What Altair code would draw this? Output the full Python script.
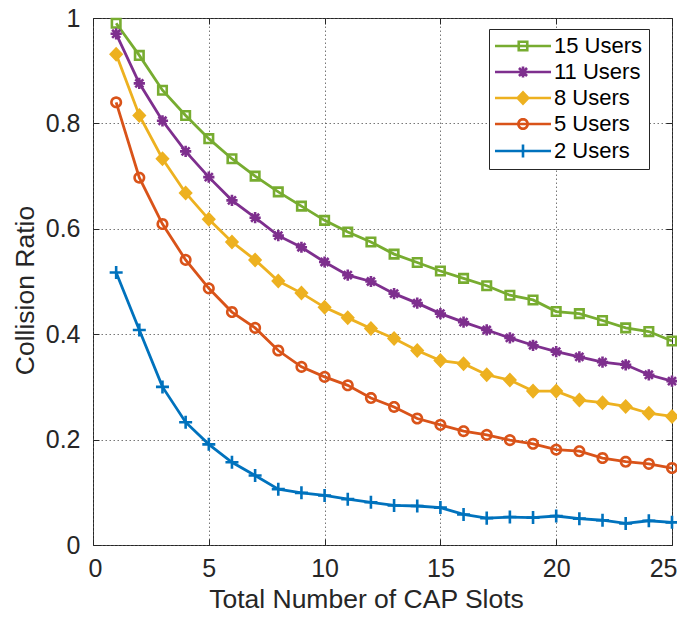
import math
import altair as alt
import pandas as pd

# ---------------- data ----------------
slots = list(range(1, 26))
series_names = ["15 Users", "11 Users", "8 Users", "5 Users", "2 Users"]
users15 = [0.990, 0.929, 0.863, 0.815, 0.771, 0.733, 0.700, 0.670, 0.643, 0.616, 0.594, 0.575,
           0.552, 0.536, 0.520, 0.506, 0.492, 0.474, 0.465, 0.443, 0.439, 0.426, 0.412, 0.405, 0.387]
users11 = [0.970, 0.876, 0.805, 0.747, 0.698, 0.654, 0.621, 0.587, 0.565, 0.537, 0.512, 0.500,
           0.477, 0.459, 0.439, 0.423, 0.408, 0.393, 0.379, 0.367, 0.357, 0.347, 0.342, 0.323, 0.311]
users8 = [0.931, 0.815, 0.733, 0.668, 0.618, 0.575, 0.541, 0.501, 0.478, 0.451, 0.431, 0.411,
          0.392, 0.369, 0.350, 0.344, 0.323, 0.313, 0.292, 0.292, 0.275, 0.270, 0.263, 0.250, 0.244]
users5 = [0.840, 0.697, 0.609, 0.541, 0.487, 0.442, 0.412, 0.369, 0.338, 0.319, 0.303, 0.279,
          0.262, 0.240, 0.228, 0.216, 0.209, 0.199, 0.192, 0.181, 0.178, 0.165, 0.158, 0.154, 0.146]
users2 = [0.517, 0.408, 0.300, 0.233, 0.191, 0.157, 0.132, 0.106, 0.099, 0.094, 0.087, 0.081,
          0.075, 0.074, 0.071, 0.058, 0.051, 0.053, 0.052, 0.055, 0.050, 0.047, 0.041, 0.046, 0.043]
x_ticks = [0, 5, 10, 15, 20, 25]
y_ticks = [0, 0.2, 0.4, 0.6, 0.8, 1]

colors = ["#77AC30", "#7E2F8E", "#EDB120", "#D95319", "#0072BD"]
fills = ["transparent", "transparent", "#EDB120", "transparent", "transparent"]

rows = []
for name, vals in zip(series_names, [users15, users11, users8, users5, users2]):
    for s, v in zip(slots, vals):
        rows.append({"slots": s, "ratio": v, "series": name})
df = pd.DataFrame(rows)

# ---------------- marker shapes (unit box; size 140 -> 1 unit ~ 5.9 px) ----------------
MSIZE = 140
MSW = 2.6


def circle_path(r, n=28):
    pts = [(r * math.cos(2 * math.pi * i / n), r * math.sin(2 * math.pi * i / n)) for i in range(n)]
    return "M" + "L".join(f"{x:.3f},{y:.3f}" for x, y in pts) + "Z"


square = "M-0.72,-0.72L0.72,-0.72L0.72,0.72L-0.72,0.72Z"
asterisk = "M-0.95,0L0.95,0M0,-0.95L0,0.95M-0.68,-0.68L0.68,0.68M-0.68,0.68L0.68,-0.68"
diamond = "M0,-0.95L0.9,0L0,0.95L-0.9,0Z"
circle = circle_path(0.8)
plus = "M-1.1,0L1.1,0M0,-1.1L0,1.1"
marker_paths = [square, asterisk, diamond, circle, plus]
half_line = 28 / (math.sqrt(MSIZE) / 2)
legend_line = f"M{-half_line:.3f},0L{half_line:.3f},0"
legend_paths = [legend_line + p for p in marker_paths]

FONT = "Liberation Sans"
W, H = 579, 527

xscale = alt.Scale(domain=[0, 25], nice=False, zero=False)
yscale = alt.Scale(domain=[0, 1], nice=False, zero=False)

base = alt.Chart(df)

lines = base.mark_line(strokeWidth=2.8).encode(
    x=alt.X("slots:Q", scale=xscale, title="Total Number of CAP Slots",
            axis=alt.Axis(orient="bottom", values=x_ticks, grid=True, domain=False,
                          ticks=True, tickSize=6, offset=-6, labelPadding=11,
                          labelFlush=True, labelFlushOffset=5,
                          titleX=273, titleY=68, titleBaseline="alphabetic",
                          titleAlign="center", titleAnchor="start")),
    y=alt.Y("ratio:Q", scale=yscale, title="Collision Ratio",
            axis=alt.Axis(orient="left", values=y_ticks, format=".1~f", grid=True, domain=False,
                          ticks=True, tickSize=6, offset=-6, labelPadding=13, labelFlush=False,
                          titleX=-66, titleY=272, titleAngle=-90, titleBaseline="alphabetic",
                          titleAlign="center", titleAnchor="start")),
    color=alt.Color("series:N", scale=alt.Scale(domain=series_names, range=colors), legend=None),
    detail="series:N",
)

points = base.mark_point(filled=False, size=MSIZE, strokeWidth=MSW, opacity=1).encode(
    x=alt.X("slots:Q", scale=xscale, axis=None),
    y=alt.Y("ratio:Q", scale=yscale, axis=None),
    color=alt.Color("series:N", scale=alt.Scale(domain=series_names, range=colors), legend=None),
    fill=alt.Fill("series:N", scale=alt.Scale(domain=series_names, range=fills), legend=None),
    shape=alt.Shape("series:N", scale=alt.Scale(domain=series_names, range=marker_paths), legend=None),
)

lab_expr = "datum.label + '\u00a0\u00a0'"
leg_kw = dict(title=None, labelExpr=lab_expr, orient="none", legendX=396, legendY=11)
legend_layer = base.transform_filter("false").mark_point(
    filled=False, size=MSIZE, strokeWidth=MSW, opacity=1
).encode(
    x=alt.X("slots:Q", scale=xscale,
            axis=alt.Axis(orient="top", values=x_ticks, labels=False, grid=False, domain=False,
                          ticks=True, tickSize=6, offset=-6, title=None)),
    y=alt.Y("ratio:Q", scale=yscale,
            axis=alt.Axis(orient="right", values=y_ticks, labels=False, grid=False, domain=False,
                          ticks=True, tickSize=6, offset=-6, title=None)),
    color=alt.Color("series:N", scale=alt.Scale(domain=series_names, range=colors),
                    legend=alt.Legend(**leg_kw)),
    fill=alt.Fill("series:N", scale=alt.Scale(domain=series_names, range=fills),
                  legend=alt.Legend(**leg_kw)),
    shape=alt.Shape("series:N", scale=alt.Scale(domain=series_names, range=legend_paths),
                    legend=alt.Legend(**leg_kw)),
)

chart = (
    alt.layer(lines, points, legend_layer)
    .resolve_scale(color="independent", shape="independent", fill="independent")
    .resolve_axis(x="independent", y="independent")
    .properties(width=W, height=H,
                autosize=alt.AutoSizeParams(type="none"),
                padding={"left": 85, "top": 10, "right": 5, "bottom": 64},
                background="white")
    .configure_view(stroke="#262626", strokeWidth=1)
    .configure_axis(labelFont=FONT, titleFont=FONT, labelFontSize=25, titleFontSize=26.5,
                    labelColor="#262626", titleColor="#262626", titleFontWeight="normal",
                    tickColor="#262626", tickWidth=1,
                    gridColor="#555555", gridOpacity=0.8, gridWidth=1, gridDash=[1.5, 2.5])
    .configure_legend(padding=6,
                      strokeColor="#262626", fillColor="white", cornerRadius=0,
                      labelFont=FONT, labelFontSize=22, labelColor="#000000",
                      symbolSize=MSIZE, symbolStrokeWidth=MSW, symbolOffset=17,
                      labelOffset=20, rowPadding=4, labelLimit=300)
)

chart.save("out.html", embed_options={"renderer": "svg", "actions": False})
